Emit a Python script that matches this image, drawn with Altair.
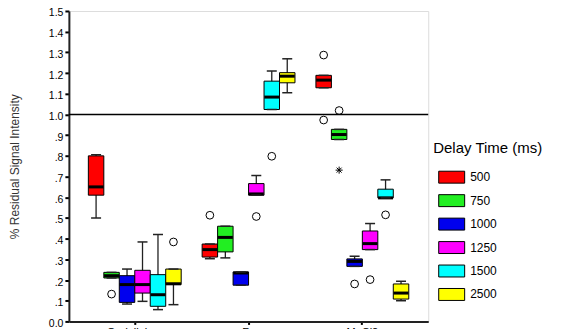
import altair as alt
import pandas as pd

# ---- data ----
groups = ["Gadolinium", "Fe", "MnCl2"]
delays = ["500", "750", "1000", "1250", "1500", "2500"]
colors = ["#ff0000", "#22ee22", "#0000ee", "#ff00ff", "#00ffff", "#ffff00"]

# rows = groups, columns = delays
whisker_low = [
    [0.500, 0.210, 0.084, 0.097, 0.057, 0.081],
    [0.303, 0.307, 0.175, 0.610, 1.024, 1.105],
    [1.129, 0.879, 0.266, 0.347, 0.597, 0.100],
]
quart_1 = [
    [0.610, 0.210, 0.092, 0.137, 0.073, 0.178],
    [0.311, 0.336, 0.175, 0.610, 1.024, 1.153],
    [1.129, 0.879, 0.266, 0.347, 0.597, 0.108],
]
medians = [
    [0.650, 0.221, 0.178, 0.178, 0.129, 0.182],
    [0.347, 0.406, 0.234, 0.616, 1.084, 1.185],
    [1.166, 0.903, 0.290, 0.376, 0.597, 0.137],
]
quart_3 = [
    [0.800, 0.237, 0.221, 0.247, 0.226, 0.253],
    [0.374, 0.460, 0.239, 0.666, 1.161, 1.202],
    [1.189, 0.928, 0.302, 0.437, 0.639, 0.181],
]
whisker_high = [
    [0.805, 0.237, 0.253, 0.384, 0.420, 0.253],
    [0.374, 0.460, 0.239, 0.705, 1.210, 1.269],
    [1.189, 0.928, 0.315, 0.473, 0.684, 0.194],
]

outlier_group = ["Gadolinium", "Gadolinium", "Fe", "Fe", "Fe",
                 "MnCl2", "MnCl2", "MnCl2", "MnCl2", "MnCl2", "MnCl2"]
outlier_delay = ["750", "2500", "500", "1250", "1500",
                 "500", "500", "750", "1000", "1250", "1500"]
outlier_value = [0.132, 0.384, 0.513, 0.507, 0.798,
                 1.287, 0.973, 1.019, 0.181, 0.202, 0.515]

extreme_group = ["MnCl2"]
extreme_delay = ["750"]
extreme_value = [0.731]

ref_lines = [1.0]
y_ticks = [0.0, 0.1, 0.2, 0.3, 0.4, 0.5, 0.6, 0.7, 0.8, 0.9, 1.0, 1.1, 1.2, 1.3, 1.4, 1.5]

# ---- tables ----
rows = []
for gi, g in enumerate(groups):
    for di, d in enumerate(delays):
        rows.append(dict(group=g, delay=d, lo=whisker_low[gi][di], q1=quart_1[gi][di],
                         med=medians[gi][di], q3=quart_3[gi][di], hi=whisker_high[gi][di]))
box_df = pd.DataFrame(rows)
out_df = pd.DataFrame(dict(group=outlier_group, delay=outlier_delay, value=outlier_value))
ext_df = pd.DataFrame(dict(group=extreme_group, delay=extreme_delay, value=extreme_value))
ref_df = pd.DataFrame(dict(value=ref_lines))

FONT = "Liberation Sans"

x_enc = alt.X("group:N", title=None,
              scale=alt.Scale(domain=groups, paddingInner=0.184, paddingOuter=0.171),
              axis=alt.Axis(labelAngle=0, labelFontSize=11, labelFont=FONT, labelColor="black",
                            tickSize=3, tickWidth=2, tickColor="black", labelPadding=2,
                            domainColor="#222222", domainWidth=2))
xo_enc = alt.XOffset("delay:N", scale=alt.Scale(domain=delays, paddingInner=0, paddingOuter=0))
y_scale = alt.Scale(domain=[0, 1.5], nice=False, zero=False)
y_axis = alt.Axis(title="% Residual Signal Intensity", values=y_ticks, grid=False,
                  labelOverlap=False, labelBound=False, labelFlush=False,
                  labelExpr="datum.value == 0 ? '0.0' : (datum.value < 1 ? replace(format(datum.value, '.1f'), '0.', '.') : format(datum.value, '.1f'))",
                  labelFontSize=10.5, labelFont=FONT, labelColor="black", labelOffset=2,
                  tickSize=4, tickWidth=2, tickColor="black", labelPadding=2,
                  domainColor="#222222", domainWidth=2,
                  titleFontSize=12, titleFont=FONT, titleFontWeight="normal", titleColor="#333333",
                  titleX=-47, titleY=155.5)


def yq(field):
    return alt.Y(field, type="quantitative", scale=y_scale, axis=y_axis)


base = alt.Chart(box_df).encode(x=x_enc, xOffset=xo_enc)

whiskers = base.mark_rule(color="#222222", strokeWidth=1.3).encode(y=yq("lo"), y2="hi:Q")

boxes = base.mark_bar(stroke="black", strokeWidth=1, opacity=1).encode(
    y=yq("q1"), y2="q3:Q",
    color=alt.Color("delay:N", scale=alt.Scale(domain=delays, range=colors),
                    legend=alt.Legend(title="Delay Time (ms)", orient="none",
                                      legendX=365, legendY=130,
                                      symbolType="M-1,-0.46H1V0.46H-1Z", symbolSize=676,
                                      symbolStrokeColor="black", symbolStrokeWidth=1,
                                      symbolOpacity=1, symbolOffset=5,
                                      labelOffset=5, labelFontSize=12, labelFont=FONT,
                                      labelColor="black",
                                      titleFontSize=15, titleFont=FONT, titleFontWeight="normal",
                                      titleColor="black", titlePadding=8, rowPadding=1.5)))

med_ticks = base.mark_tick(color="black", thickness=3, size=15, opacity=1).encode(y=yq("med"))
cap_lo = base.mark_tick(color="#222222", thickness=1.5, size=10, opacity=1).encode(y=yq("lo"))
cap_hi = base.mark_tick(color="#222222", thickness=1.5, size=10, opacity=1).encode(y=yq("hi"))

outliers = alt.Chart(out_df).mark_point(shape="circle", filled=False, stroke="black",
                                        strokeWidth=1, size=60, opacity=1).encode(
    x=x_enc, xOffset=xo_enc, y=yq("value"))

extremes = alt.Chart(ext_df).mark_point(
    shape="M-1,0H1M0,-1V1M-0.7,-0.7L0.7,0.7M-0.7,0.7L0.7,-0.7",
    filled=False, stroke="black", strokeWidth=1, size=50, opacity=1).encode(
    x=x_enc, xOffset=xo_enc, y=yq("value"))

ref = alt.Chart(ref_df).mark_rule(color="black", strokeWidth=1.5).encode(y=yq("value"))

chart = alt.layer(whiskers, boxes, med_ticks, cap_lo, cap_hi, outliers, extremes, ref).properties(
    width=360, height=311,
    autosize=alt.AutoSizeParams(type="none"),
    padding={"left": 61, "top": 2.7, "right": 125, "bottom": 14},
).configure_view(stroke="black", strokeWidth=1).configure_axis(
    labelOverlap=False
).configure(background="white")

chart.save("out.html", embed_options={"renderer": "svg", "actions": False})
